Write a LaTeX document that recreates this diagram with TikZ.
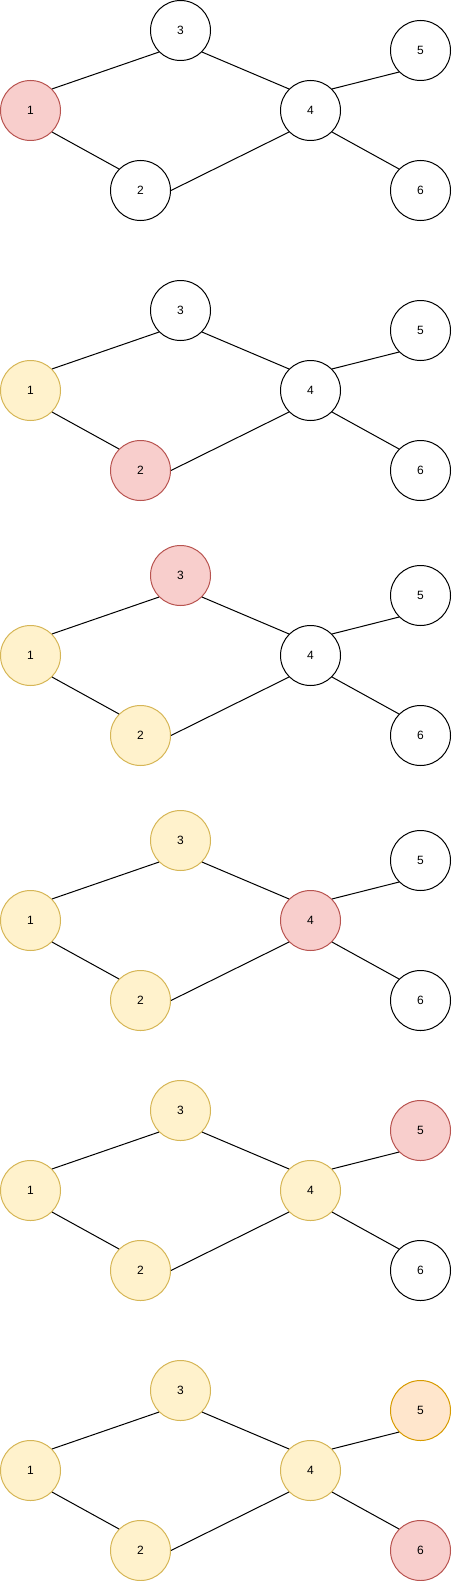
\documentclass[tikz,border=0pt]{standalone}
\usepackage{fontspec}
\setmainfont{Liberation Sans}
\definecolor{redfill}{HTML}{F8CECC}
\definecolor{redline}{HTML}{B85450}
\definecolor{yelfill}{HTML}{FFF2CC}
\definecolor{yelline}{HTML}{D6B656}
\definecolor{orafill}{HTML}{FFE6CC}
\definecolor{oraline}{HTML}{D79B00}
\tikzset{
  vtx/.style={circle, minimum size=60pt, inner sep=0pt, line width=1pt, draw=black, fill=white, font=\fontsize{12}{14}\selectfont},
  plain/.style={},
  cur/.style={fill=redfill, draw=redline},
  done/.style={fill=yelfill, draw=yelline},
  queued/.style={fill=orafill, draw=oraline},
  edge/.style={line width=1pt, draw=black}
}
\newcommand{\gpanel}[8]{%
  \node[vtx,#3] (n#1a) at (30,{#2+80}) {1};
  \node[vtx,#4] (n#1b) at (140,{#2+160}) {2};
  \node[vtx,#5] (n#1c) at (180,{#2+0}) {3};
  \node[vtx,#6] (n#1d) at (310,{#2+80}) {4};
  \node[vtx,#7] (n#1e) at (420,{#2+20}) {5};
  \node[vtx,#8] (n#1f) at (420,{#2+160}) {6};
  \draw[edge] (n#1a.north east) -- (n#1c.south west);
  \draw[edge] (n#1a.south east) -- (n#1b.north west);
  \draw[edge] (n#1c.south east) -- (n#1d.north west);
  \draw[edge] (n#1b.east) -- (n#1d.south west);
  \draw[edge] (n#1d.north east) -- (n#1e.south west);
  \draw[edge] (n#1d.south east) -- (n#1f.north west);
}
\begin{document}
\begin{tikzpicture}[x=1pt,y=-1pt]
\useasboundingbox (-0.5,-0.5) rectangle (450.5,1580.5);
\begin{scope}[yshift=-30pt]
\gpanel{1}{0}{cur}{plain}{plain}{plain}{plain}{plain}
\gpanel{2}{280}{done}{cur}{plain}{plain}{plain}{plain}
\gpanel{3}{545}{done}{done}{cur}{plain}{plain}{plain}
\gpanel{4}{810}{done}{done}{done}{cur}{plain}{plain}
\gpanel{5}{1080}{done}{done}{done}{done}{cur}{plain}
\gpanel{6}{1360}{done}{done}{done}{done}{queued}{cur}
\end{scope}
\end{tikzpicture}
\end{document}
